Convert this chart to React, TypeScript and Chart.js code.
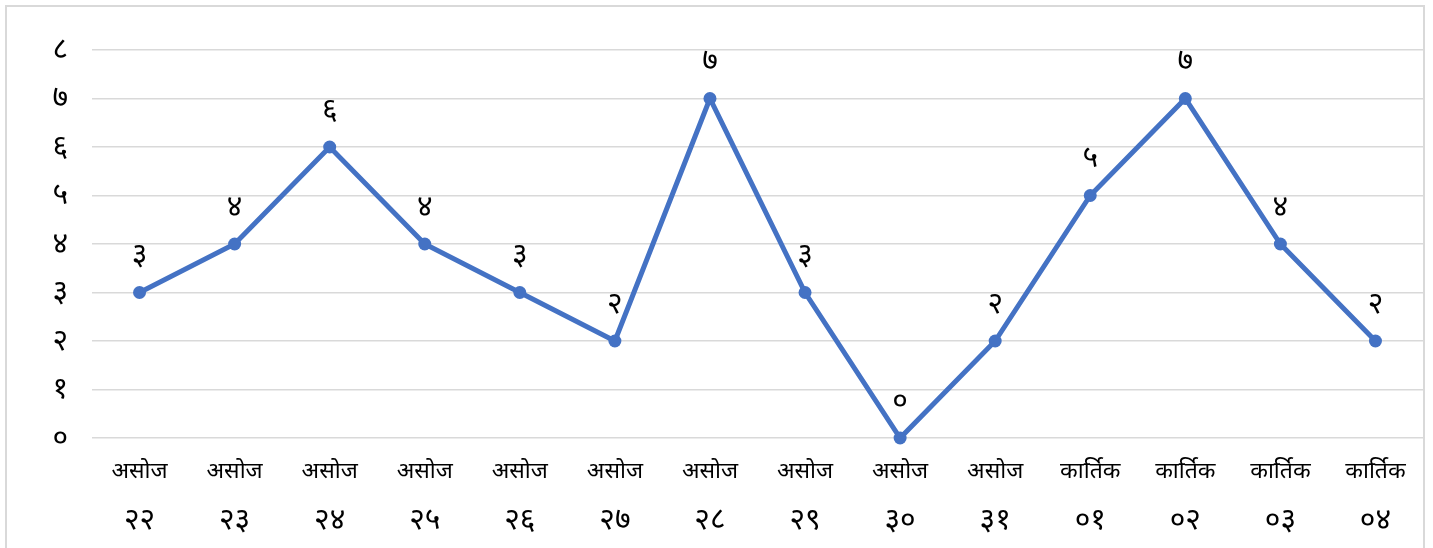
import React, { useEffect, useRef } from "react";
import { Chart, registerables } from "chart.js";

Chart.register(...registerables);

const digits = ["०", "१", "२", "३", "४", "५", "६", "७", "८", "९"];
const months = ["असोज", "असोज", "असोज", "असोज", "असोज", "असोज", "असोज", "असोज", "असोज", "असोज", "कार्तिक", "कार्तिक", "कार्तिक", "कार्तिक"];
const days = ["२२", "२३", "२४", "२५", "२६", "२७", "२८", "२९", "३०", "३१", "०१", "०२", "०३", "०४"];
const values = [3, 4, 6, 4, 3, 2, 7, 3, 0, 2, 5, 7, 4, 2];
const yTickLabels = ["०", "१", "२", "३", "४", "५", "६", "७", "८"];

const toDev = (n: number) => String(n).split("").map((c) => digits[Number(c)] ?? c).join("");

const FONT = "'Noto Sans', 'Noto Sans Devanagari', sans-serif";
const DIGIT_SIZE = 30;

const dataLabelPlugin = {
  id: "dataLabels",
  afterDatasetsDraw(chart: any) {
    const ctx = chart.ctx;
    const meta = chart.getDatasetMeta(0);
    ctx.save();
    ctx.font = `${DIGIT_SIZE}px ${FONT}`;
    ctx.fillStyle = "#000";
    ctx.textAlign = "center";
    ctx.textBaseline = "middle";
    meta.data.forEach((pt: any, i: number) => {
      ctx.fillText(toDev(values[i]), pt.x, pt.y - 37);
    });
    ctx.restore();
  },
};

const noSidePadding = (s: any) => {
  s.paddingLeft = 0;
  s.paddingRight = 0;
};

export default function App() {
  const ref = useRef<HTMLCanvasElement | null>(null);
  useEffect(() => {
    document.body.style.margin = "0";
    document.body.style.overflow = "hidden";
    if (!ref.current) return;
    const chart = new Chart(ref.current, {
      type: "line",
      data: {
        labels: months,
        datasets: [
          {
            data: values,
            xAxisID: "x",
            borderColor: "#4472C4",
            backgroundColor: "#4472C4",
            borderWidth: 5,
            pointRadius: 6.5,
            pointBackgroundColor: "#4472C4",
            pointBorderColor: "#4472C4",
            pointBorderWidth: 0,
            tension: 0,
            clip: false,
          },
        ],
      },
      options: {
        animation: false,
        responsive: false,
        maintainAspectRatio: false,
        layout: { autoPadding: false, padding: { top: 43, bottom: 13, left: 0, right: 0 } },
        plugins: { legend: { display: false }, tooltip: { enabled: false } },
        scales: {
          x: {
            type: "category",
            position: "bottom",
            weight: 0,
            offset: true,
            afterFit: noSidePadding,
            grid: { display: false, drawTicks: false },
            border: { display: false },
            ticks: {
              padding: 22,
              maxRotation: 0,
              autoSkip: false,
              color: "#000",
              font: { family: FONT, size: 23, lineHeight: 1 },
            },
          },
          x2: {
            type: "category",
            position: "bottom",
            weight: 1,
            labels: days,
            offset: true,
            afterFit: noSidePadding,
            grid: { display: false, drawTicks: false },
            border: { display: false },
            ticks: {
              padding: 0,
              maxRotation: 0,
              autoSkip: false,
              color: "#000",
              font: { family: FONT, size: DIGIT_SIZE, lineHeight: 1 },
            },
          },
          y: {
            min: 0,
            max: 8,
            afterFit: (s: any) => {
              s.width = 85;
            },
            grid: { color: "#d9d9d9", lineWidth: 1.5, drawTicks: false },
            border: { display: false },
            ticks: {
              stepSize: 1,
              padding: 24,
              color: "#000",
              font: { family: FONT, size: DIGIT_SIZE },
              callback: (v: any) => yTickLabels[Number(v)] ?? "",
            },
          },
        },
      },
      plugins: [dataLabelPlugin],
    });
    return () => chart.destroy();
  }, []);

  return (
    <div
      style={{
        position: "absolute",
        left: 5,
        top: 5,
        width: 1420,
        height: 543,
        boxSizing: "border-box",
        border: "2px solid #d9d9d9",
        borderBottom: "none",
        background: "#fff",
      }}
    >
      <canvas ref={ref} width={1416} height={541} style={{ display: "block" }} />
    </div>
  );
}
